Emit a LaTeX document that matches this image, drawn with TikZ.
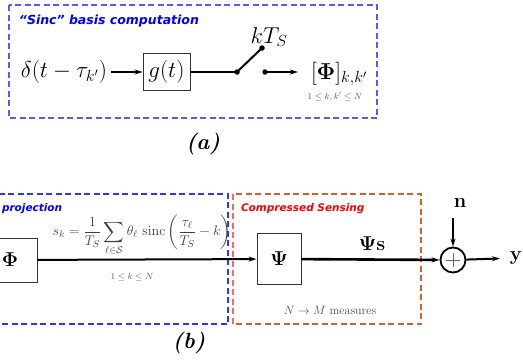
\RequirePackage{fix-cm}
\documentclass[tikz,border=0pt]{standalone}
\usepackage{amsmath}
\usepackage[no-math]{fontspec}
\newfontfamily\tagfont{DejaVu Sans}
\usetikzlibrary{arrows.meta}

\tikzset{
    block/.style={draw=black!80, line width=0.9pt, fill=white, inner sep=0pt},
    tag/.style={font=\tagfont\bfseries\itshape\fontsize{10.5}{12}\selectfont, anchor=base west, inner sep=0pt},
    frame/.style={dash pattern=on 6pt off 3.5pt, line width=1.2pt},
    dot/.style={circle, fill, inner sep=0pt, minimum size=5.5pt},
    bigA/.style={font=\fontsize{23}{27}\selectfont},
    bigB/.style={font=\fontsize{20}{24}\selectfont},
    small/.style={font=\fontsize{9}{11}\selectfont, text=black!65},
    caption/.style={font=\fontsize{22}{26}\selectfont\bfseries\itshape},
    adder/.style={circle, draw, line width=1.8pt, minimum size=25pt, inner sep=0pt,
        path picture={\draw[black!60, line width=0.6pt]
            ([xshift=-7pt]path picture bounding box.center) -- ([xshift=7pt]path picture bounding box.center)
            ([yshift=-7pt]path picture bounding box.center) -- ([yshift=7pt]path picture bounding box.center);}}
}

\begin{document}
\begin{tikzpicture}[
    x=1pt, y=-1pt, % pixel grid, y downwards
    >={Stealth[length=8pt, width=5pt]}, % Arrow tip style
    line width=2pt
]
\useasboundingbox (0,0) rectangle (523,364);
\clip (0,0) rectangle (523,364);

% Frames
\draw[frame, blue!65] (9,5) rectangle (377,118);
\draw[frame, blue!80] (-20,194) rectangle (228,324);
\draw[frame, brown!75!red] (233,194) rectangle (421,324);
\draw[frame, red!60] (233,194) -- (233,324);

% (a) sinc basis
\node[tag, text=blue, font=\tagfont\bfseries\itshape\fontsize{12.5}{14}\selectfont] (titleA) at (18,24) {“Sinc” basis computation};
\node[bigA] (delta) at (64,72) {$\delta(t-\tau_{k'})$};
\node[block, bigA, minimum width=47pt, minimum height=37pt] (g) at (166.5,72) {$g(t)$};
\coordinate (swA) at (237,72);
\coordinate (swB) at (262,48);
\coordinate (swC) at (265,72);
\node[dot] at (swA) {};
\node[dot] at (swB) {};
\node[dot] at (swC) {};
\node[bigA] (ts) at (269,37) {$kT_S$};
\node[bigA, anchor=west, inner sep=0pt] (PhiA) at (310,74) {$[\mathbf{\Phi}]_{k,k'}$};
\node[small] (rangeA) at (335,97) {$1\le k,k'\le N$};
\node[caption] (capA) at (203,144) {(a)};

% Edges (a)
\draw[->] (delta) -- (g);
\draw (g) -- (swA);
\draw (swA) -- (swB);
\draw[->, shorten >=12pt] (swC) -- (PhiA.west |- swC);

% (b) projection and compressed sensing
\node[tag, text=blue] (titleP) at (1,211) {projection};
\node[tag, text=red] (titleCS) at (240,211) {Compressed Sensing};
\node[block, bigB, minimum width=54pt, minimum height=44pt] (Phi) at (10,260) {$\mathbf{\Phi}$};
\node[block, bigB, minimum width=44pt, minimum height=51pt] (Psi) at (279,259) {$\mathbf{\Psi}$};
\node[adder] (sum) at (453,260) {};
\node[bigB] (n) at (460,203) {$\mathbf{n}$};
\coordinate (noise) at (453,218);
\node[bigB, inner sep=0pt] (y) at (516,258) {$\mathbf{y}$};
\node[font=\fontsize{14}{17}\selectfont, text=black!75] (sk) at (142,235)
    {$\displaystyle s_k=\frac{1}{T_S}\sum_{\ell\in\mathcal{S}}\theta_\ell\,\operatorname{sinc}\left(\frac{\tau_\ell}{T_S}-k\right)$};
\node[small] (rangeB) at (132,277) {$1\le k\le N$};
\node[font=\fontsize{12}{14}\selectfont, text=black!70] (meas) at (330,310) {$N\rightarrow M$ measures};
\node[bigB] (PsiS) at (372,244) {$\mathbf{\Psi s}$};
\node[caption] (capB) at (189,343) {(b)};

% Edges (b)
\draw[->] (Phi) -- (Psi);
\draw[->, line width=2.6pt] (Psi) -- (sum);
\draw[->] (noise) -- (sum);
\draw[->, shorten >=9pt] (sum) -- (y);

\end{tikzpicture}
\end{document}
